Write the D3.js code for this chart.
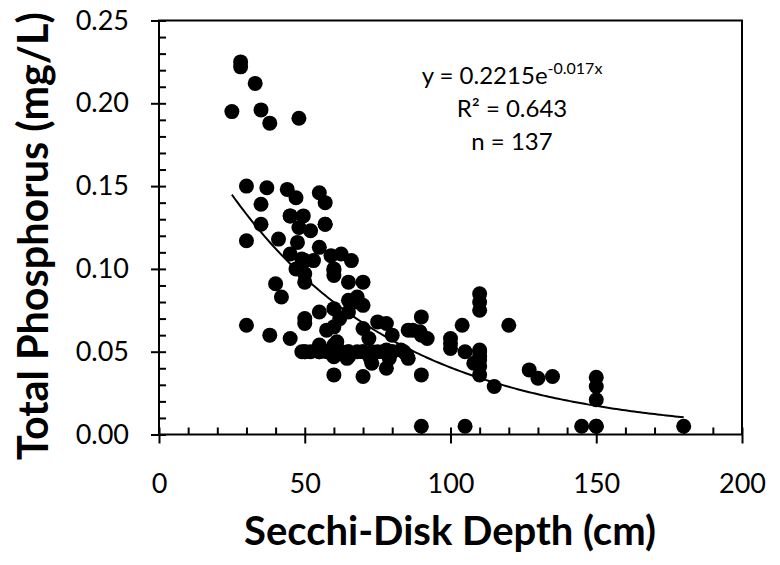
<!DOCTYPE html>
<html>
<head>
<meta charset="utf-8">
<script src="https://cdn.jsdelivr.net/npm/d3@7"></script>
<style>
  body { margin: 0; background: #fff; }
  svg text { font-family: Lato, "Open Sans", sans-serif; fill: #000; }
</style>
</head>
<body>
<div id="plot"></div>
<script>
// secchi depth (cm) and total phosphorus (mg/L)
var depth = [28,28,33,25,35,38,48,30,37,44,47,55,57,35,35,45,49.5,57,48,52,
  30,41,47.5,55,45,49,53,59,62.5,66,47,50,60,60,50,65,70,40,42,65,
  68,70,55,60,50,50,30,57.5,60,70,72,75,78,80,85.5,38,45,49,52,55,
  57.5,60,62.5,65,68,70,73,77,80,84,55,60,60,65,73,78,60,70,78,83,
  85,90,87,89.5,92,90,90,100,100,104,105,105,110,110,110,110,110,108,110,110,
  115,120,127,130,135,150,150,150,145,150,180,65,61,64.5,72.5,79,85.5,50,60,70,
  50,55,60,65,75,80,110,150,45,57,50,60,100,90,110,62,68];
var phosphorus = [0.225,0.222,0.212,0.195,0.196,0.188,0.191,0.150,0.149,0.148,0.143,0.146,0.140,0.139,0.127,0.132,0.132,0.127,0.125,0.123,
  0.117,0.118,0.116,0.113,0.109,0.106,0.105,0.108,0.109,0.105,0.100,0.097,0.099,0.096,0.092,0.092,0.092,0.091,0.083,0.081,
  0.083,0.078,0.074,0.076,0.070,0.067,0.066,0.063,0.065,0.064,0.058,0.068,0.067,0.060,0.063,0.060,0.058,0.050,0.050,0.050,
  0.050,0.050,0.050,0.050,0.050,0.050,0.050,0.050,0.050,0.050,0.054,0.054,0.047,0.047,0.043,0.040,0.036,0.035,0.051,0.051,
  0.048,0.071,0.063,0.062,0.058,0.036,0.005,0.058,0.052,0.066,0.050,0.005,0.085,0.080,0.075,0.051,0.047,0.043,0.041,0.036,
  0.029,0.066,0.039,0.034,0.035,0.0345,0.029,0.021,0.005,0.005,0.005,0.074,0.056,0.046,0.046,0.046,0.046,0.050,0.050,0.050,
  0.050,0.050,0.050,0.050,0.050,0.050,0.050,0.005,0.132,0.127,0.105,0.100,0.055,0.060,0.045,0.070,0.080];

var xTicks = [0, 50, 100, 150, 200];
var yTicks = [0, 0.05, 0.10, 0.15, 0.20, 0.25];
var fitA = 0.2215, fitB = -0.017, fitFrom = 25, fitTo = 180;
var eqLines = ["R\u00b2 = 0.643", "n = 137"];

var W = 780, H = 565;
var box = {l: 159, r: 742, t: 20.5, b: 434.5};

var svg = d3.select('#plot').append('svg')
    .attr('width', W).attr('height', H);

var x = d3.scaleLinear().domain([0, 200]).range([box.l, box.r]);
var y = d3.scaleLinear().domain([0, 0.25]).range([box.b, box.t]);

// minor ticks point inward, major ticks outward
var xMinor = d3.range(0, 201, 10), yMinor = d3.range(0, 0.2501, 0.01);

svg.append('g')
    .attr('transform', 'translate(0,' + box.b + ')')
    .call(d3.axisBottom(x).tickValues(xMinor).tickSize(-7).tickSizeOuter(0).tickFormat(''))
    .call(function(g){ g.select('.domain').remove(); g.selectAll('line').attr('stroke-width', 2); });
svg.append('g')
    .attr('transform', 'translate(' + box.l + ',0)')
    .call(d3.axisLeft(y).tickValues(yMinor).tickSize(-7).tickSizeOuter(0).tickFormat(''))
    .call(function(g){ g.select('.domain').remove(); g.selectAll('line').attr('stroke-width', 2); });

var xAxis = svg.append('g')
    .attr('transform', 'translate(0,' + box.b + ')')
    .call(d3.axisBottom(x).tickValues(xTicks).tickSize(9).tickSizeOuter(0).tickPadding(30))
    .call(function(g){ g.select('.domain').remove(); g.selectAll('line').attr('stroke-width', 2); });
xAxis.selectAll('text').attr('font-size', 27).attr('font-family', 'Lato');

var yAxis = svg.append('g')
    .attr('transform', 'translate(' + box.l + ',0)')
    .call(d3.axisLeft(y).tickValues(yTicks).tickSize(8).tickSizeOuter(0).tickPadding(22)
        .tickFormat(d3.format('.2f')))
    .call(function(g){ g.select('.domain').remove(); g.selectAll('line').attr('stroke-width', 2); });
yAxis.selectAll('text').attr('font-size', 27).attr('font-family', 'Lato');

// frame
svg.append('rect')
    .attr('x', box.l).attr('y', box.t)
    .attr('width', box.r - box.l).attr('height', box.b - box.t)
    .attr('fill', 'none').attr('stroke', '#000').attr('stroke-width', 2);

// points
var pts = depth.map(function(d, i){ return {x: d, y: phosphorus[i]}; });
svg.selectAll('.node').data(pts).enter()
    .append('circle')
    .attr('class', 'node')
    .attr('cx', function(d){ return x(d.x); })
    .attr('cy', function(d){ return y(d.y); })
    .attr('r', 7.5)
    .attr('fill', '#000');

// exponential fit
var fitX = d3.range(fitFrom, fitTo + 0.5, 1);
svg.append('path')
    .datum(fitX)
    .attr('fill', 'none').attr('stroke', '#000').attr('stroke-width', 2)
    .attr('d', d3.line()
        .x(function(d){ return x(d); })
        .y(function(d){ return y(fitA * Math.exp(fitB * d)); }));

// equation
var eq = svg.append('text').attr('x', 512).attr('y', 84)
    .attr('text-anchor', 'middle').attr('font-size', 24);
eq.append('tspan').text('y = ' + fitA + 'e');
eq.append('tspan').attr('dy', -10).attr('font-size', 16).text(fitB + 'x');
svg.selectAll('.eq').data(eqLines).enter()
    .append('text').attr('class', 'eq')
    .attr('x', 512).attr('y', function(d, i){ return 117 + i * 33; })
    .attr('text-anchor', 'middle').attr('font-size', 24)
    .text(function(d){ return d; });

// axis titles, sized to the widths in the picture
function fit(t, target) {
    var len = t.node().getComputedTextLength();
    t.attr('font-size', 30 * target / len);
}
var xt = svg.append('text').attr('x', 450).attr('y', 545)
    .attr('text-anchor', 'middle').attr('font-weight', 700).attr('font-size', 30)
    .text('Secchi-Disk Depth (cm)');
fit(xt, 412);
var yt = svg.append('text')
    .attr('transform', 'translate(48,236) rotate(-90)')
    .attr('text-anchor', 'middle').attr('font-weight', 700).attr('font-size', 30)
    .text('Total Phosphorus (mg/L)');
fit(yt, 448);
</script>
</body>
</html>
